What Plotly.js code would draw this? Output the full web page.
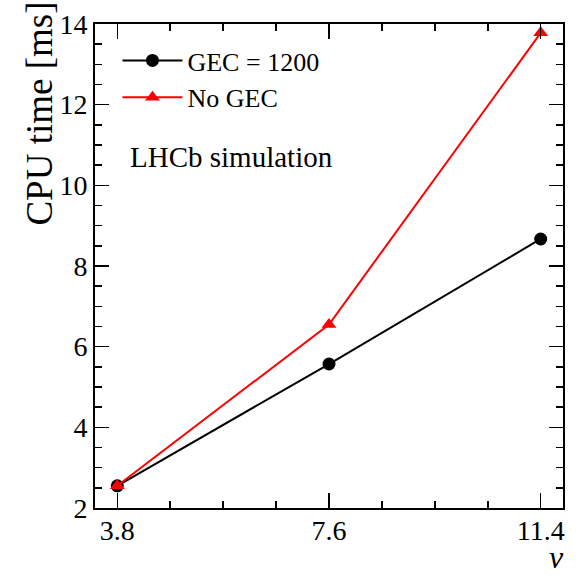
<!DOCTYPE html>
<html>
<head>
<meta charset="utf-8">
<script src="https://cdn.plot.ly/plotly-3.0.1.min.js"></script>
<style>html,body{margin:0;padding:0;background:#fff;}#chart{width:582px;height:576px;}</style>
</head>
<body>
<div id="chart"></div>
<script>
const nu = [3.8, 7.6, 11.4];
const cpuGEC = [2.55, 5.57, 8.67];
const cpuNoGEC = [2.55, 6.55, 13.78];
const xTickLabels = ['3.8', '7.6', '11.4'];
const seriesNames = ['GEC = 1200', 'No GEC'];

const font = "'Liberation Serif', serif";

const traces = [
  {x: nu, y: cpuGEC, name: seriesNames[0], mode: 'lines+markers', type: 'scatter',
   line: {color: '#000', width: 2}, marker: {color: '#000', symbol: 'circle', size: 13}},
  {x: nu, y: cpuNoGEC, name: seriesNames[1], mode: 'lines+markers', type: 'scatter',
   line: {color: '#ff0000', width: 2}, marker: {color: '#ff0000', symbol: 'triangle-up', size: 13}}
];

const layout = {
  width: 582, height: 576,
  margin: {l: 95, r: 19, t: 24, b: 68},
  paper_bgcolor: '#fff', plot_bgcolor: '#fff',
  font: {family: font, color: '#000', size: 28},
  showlegend: true,
  legend: {x: 0.048, y: 0.973, xanchor: 'left', yanchor: 'top', bgcolor: 'rgba(0,0,0,0)',
           font: {family: font, size: 26, color: '#000'}, itemwidth: 60, tracegroupgap: 0},
  xaxis: {
    range: [3.4, 11.8], tickmode: 'array', tickvals: nu, ticktext: xTickLabels,
    ticks: 'inside', ticklen: 15, tickwidth: 1.5, tickcolor: '#000',
    showline: true, linewidth: 2, linecolor: '#000', mirror: 'ticks',
    showgrid: false, zeroline: false, ticklabelstandoff: -4,
    tickfont: {family: font, size: 28, color: '#000'},
    minor: {tickmode: 'linear', tick0: 3.8, dtick: 0.95, ticks: 'inside', ticklen: 7, tickwidth: 1.5, tickcolor: '#000', showgrid: false}
  },
  yaxis: {
    range: [2, 14], tickmode: 'linear', tick0: 2, dtick: 2,
    ticks: 'inside', ticklen: 14, tickwidth: 1.5, tickcolor: '#000',
    showline: true, linewidth: 2, linecolor: '#000', mirror: 'ticks',
    showgrid: false, zeroline: false,
    tickfont: {family: font, size: 28, color: '#000'},
    minor: {dtick: 0.5, ticks: 'inside', ticklen: 7, tickwidth: 1.5, tickcolor: '#000', showgrid: false}
  },
  annotations: [
    {text: 'LHCb simulation', xref: 'paper', yref: 'paper', x: 0.07, y: 0.725, xanchor: 'left', yanchor: 'middle',
     showarrow: false, font: {family: font, size: 29, color: '#000'}},
    {text: '<i>ν</i>', xref: 'paper', yref: 'paper', x: 0.987, y: -0.1395, xanchor: 'center', yanchor: 'bottom',
     height: 28, borderpad: 0, valign: 'bottom',
     showarrow: false, font: {family: font, size: 32, color: '#000'}},
    {text: 'CPU time [ms]', xref: 'paper', yref: 'paper', x: -0.118, y: 1.05, xanchor: 'center', yanchor: 'top',
     textangle: -90, showarrow: false, font: {family: font, size: 37, color: '#000'}}
  ]
};

Plotly.newPlot('chart', traces, layout, {displayModeBar: false, staticPlot: true});
</script>
</body>
</html>
